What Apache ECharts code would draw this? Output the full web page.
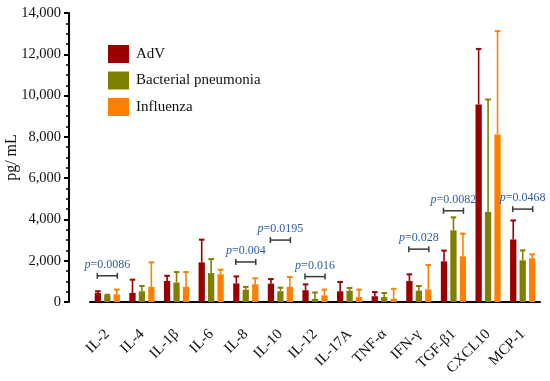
<!DOCTYPE html>
<html><head><meta charset="utf-8">
<script src="https://cdn.jsdelivr.net/npm/echarts@6/dist/echarts.min.js"></script>
<style>html,body{margin:0;padding:0;background:#fff}#c{width:550px;height:381px}</style>
</head><body><div id="c"></div>
<script>
const categories = ['IL-2','IL-4','IL-1β','IL-6','IL-8','IL-10','IL-12','IL-17A','TNF-α','IFN-γ','TGF-β1','CXCL10','MCP-1'];
const seriesNames = ['AdV','Bacterial pneumonia','Influenza'];
const advMean = [440, 440, 1020, 1920, 900, 890, 570, 520, 280, 1020, 1970, 9570, 3030];
const advSD   = [80, 640, 250, 1100, 340, 220, 285, 450, 200, 320, 520, 2690, 920];
const bactMean = [320, 520, 940, 1400, 600, 520, 150, 550, 240, 550, 3470, 4360, 2020];
const bactSD   = [30, 255, 510, 680, 130, 175, 310, 130, 195, 225, 630, 5450, 480];
const fluMean = [370, 730, 740, 1340, 860, 740, 320, 240, 160, 610, 2210, 8120, 2120];
const fluSD   = [230, 1190, 710, 225, 290, 470, 280, 360, 480, 1180, 1100, 5000, 190];
const yTicks = [0, 2000, 4000, 6000, 8000, 10000, 12000, 14000];
const pCategory = ['IL-2','IL-8','IL-10','IL-12','IFN-γ','TGF-β1','MCP-1'];
const pLevel = [1270, 1940, 3000, 1230, 2560, 4420, 4500];
const pText = ['0.0086','0.004','0.0195','0.016','0.028','0.0082','0.0468'];

const colors = ['#990000', '#808000', '#FF8000'];
const FONT = 'Liberation Serif';
const BAR_W = 6.3, BAR_STEP = 9.45;
const means = [advMean, bactMean, fluMean];
const sds = [advSD, bactSD, fluSD];

const chart = echarts.init(document.getElementById('c'), null, {renderer: 'canvas'});

const series = [];
means.forEach((m, k) => {
  series.push({
    name: seriesNames[k], type: 'bar', data: m, barWidth: BAR_W, barGap: '50%',
    itemStyle: {color: colors[k]}, z: 2
  });
});
means.forEach((m, k) => {
  series.push({
    type: 'custom', silent: true, z: 3,
    data: m.map((v, i) => [i, v, sds[k][i]]),
    renderItem: function (params, api) {
      const i = api.value(0), v = api.value(1), e = api.value(2);
      const b = api.coord([i, v]);
      const t = api.coord([i, v + e]);
      const x = b[0] + (k - 1) * BAR_STEP;
      const st = {stroke: colors[k], lineWidth: 1.6};
      return {type: 'group', children: [
        {type: 'line', shape: {x1: x, y1: b[1], x2: x, y2: t[1]}, style: st},
        {type: 'line', shape: {x1: x - 2.8, y1: t[1], x2: x + 2.8, y2: t[1]}, style: {stroke: colors[k], lineWidth: 2}}
      ]};
    }
  });
});
series.push({
  type: 'custom', silent: true, z: 4,
  data: pCategory.map((c, j) => [categories.indexOf(c), pLevel[j], pText[j]]),
  renderItem: function (params, api) {
    const c = api.coord([api.value(0), api.value(1)]);
    const x = c[0], y = c[1], hw = 10;
    const st = {stroke: '#3a3a3a', lineWidth: 1.5};
    return {type: 'group', children: [
      {type: 'line', shape: {x1: x - hw, y1: y, x2: x + hw, y2: y}, style: st},
      {type: 'line', shape: {x1: x - hw, y1: y - 3, x2: x - hw, y2: y + 3}, style: st},
      {type: 'line', shape: {x1: x + hw, y1: y - 3, x2: x + hw, y2: y + 3}, style: st},
      {type: 'text', x: x, y: y - 5, style: {
        text: '{i|p}=' + pText[params.dataIndex],
        align: 'center', verticalAlign: 'bottom',
        fill: '#2E5FA3', font: '12px "' + FONT + '"',
        rich: {i: {fontStyle: 'italic', fontFamily: FONT, fontSize: 12, fill: '#2E5FA3'}}
      }}
    ]};
  }
});

chart.setOption({
  animation: false,
  color: colors,
  textStyle: {fontFamily: FONT},
  grid: {left: 90, right: 10, top: 13, bottom: 79, containLabel: false, outerBoundsMode: 'none'},
  legend: {
    data: seriesNames, orient: 'vertical', left: 108, top: 45, padding: 0,
    itemWidth: 21, itemHeight: 18, itemGap: 8.5, icon: 'rect',
    textStyle: {fontFamily: FONT, fontSize: 15, color: '#111', padding: [0, 0, 0, 2]}
  },
  xAxis: {
    type: 'category', data: categories, offset: 20,
    axisLine: {lineStyle: {color: '#000', width: 2}},
    axisTick: {alignWithLabel: true, length: 6, lineStyle: {color: '#000', width: 2}},
    axisLabel: {rotate: 45, margin: 10, fontSize: 15, color: '#111', fontFamily: FONT, interval: 0}
  },
  yAxis: {
    type: 'value', min: yTicks[0], max: yTicks[yTicks.length - 1], interval: yTicks[1] - yTicks[0], offset: 21,
    name: 'pg/ mL', nameLocation: 'middle', nameGap: 49, nameRotate: 90, nameMoveOverlap: false,
    nameTextStyle: {fontFamily: FONT, fontSize: 16, color: '#111'},
    axisLine: {show: true, lineStyle: {color: '#000', width: 2}},
    axisTick: {show: true, length: 5, lineStyle: {color: '#000', width: 2}},
    minorTick: {show: true, splitNumber: 4, length: 3, lineStyle: {color: '#000', width: 1.5}},
    splitLine: {show: false},
    axisLabel: {margin: 8, fontSize: 14.5, color: '#111', fontFamily: FONT,
      formatter: v => v.toLocaleString('en-US')}
  },
  series: series
});
</script></body></html>
